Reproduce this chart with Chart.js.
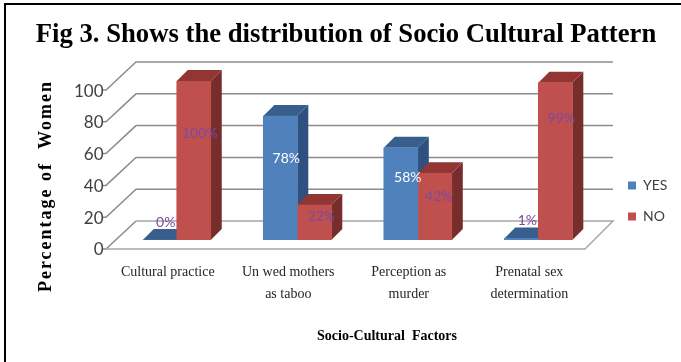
<!DOCTYPE html>
<html>
<head>
<meta charset="utf-8">
<title>Socio Cultural Pattern</title>
<script src="https://cdn.jsdelivr.net/npm/chart.js@4"></script>
<style>
    html, body { margin: 0; padding: 0; background: #fff; }
    #wrap { position: relative; width: 681px; height: 362px; overflow: hidden; }
    #chart { display: block; }
    .rule { position: absolute; background: #000; }
    #ruleTop { left: 4px; top: 3px; right: 0; height: 2px; }
    #ruleLeft { left: 4px; top: 3px; bottom: 0; width: 2px; }
</style>
</head>
<body>
<div id="wrap">
    <canvas id="chart" width="681" height="362"></canvas>
    <div class="rule" id="ruleTop"></div>
    <div class="rule" id="ruleLeft"></div>
</div>
<script>
// Chart data
const categories = [
    'Cultural practice',
    ['Un wed mothers', 'as taboo'],
    ['Perception as', 'murder'],
    ['Prenatal sex', 'determination']
];
const yesValues = [0, 78, 58, 1];
const noValues = [100, 22, 42, 99];
const yTicks = [0, 20, 40, 60, 80, 100];

const chartTitle = 'Fig 3. Shows the distribution of Socio Cultural Pattern';
const yAxisTitle = 'Percentage of  Women';
const xAxisTitle = 'Socio-Cultural  Factors';

// Depth of the drawing: bars and the box they stand in
const barDepth = 11;
const floorFront = 9;
const floorBack = -19;
const wallLeft = 106;
const wallBack = 136;
const wallRight = 613;
const floorRight = 585;

const faces = [
    { top: '#385e8c', side: '#2e5180' },
    { top: '#923634', side: '#772d2b' }
];

// Where each value label sits relative to the middle of its bar
const labelColor = '#7d4a9e';
const labelShift = [
    [{ x: 6, y: -18 }, { x: 6, y: -20 }, { x: 7, y: -16 }, { x: 6, y: -19 }],
    [{ x: 6, y: -27 }, { x: 7, y: -6 }, { x: 4, y: -10 }, { x: 6, y: -43 }]
];

const boxPlugin = {
    id: 'box',
    beforeDatasetsDraw(chart) {
        const { ctx, scales: { y } } = chart;
        ctx.save();
        ctx.strokeStyle = '#8c8c8c';
        ctx.lineWidth = 1.5;
        yTicks.forEach((tick) => {
            const py = y.getPixelForValue(tick);
            ctx.beginPath();
            ctx.moveTo(wallLeft - 3, py + floorFront);
            ctx.lineTo(wallLeft, py + floorFront);
            ctx.lineTo(wallBack, py + floorBack);
            if (tick > 0) ctx.lineTo(wallRight, py + floorBack);
            ctx.stroke();
        });

        const base = y.getPixelForValue(0);
        ctx.strokeStyle = '#a6a6a6';
        ctx.beginPath();
        ctx.moveTo(wallLeft, base + floorFront);
        ctx.lineTo(floorRight, base + floorFront);
        ctx.lineTo(wallRight, base + floorBack);
        ctx.lineTo(wallBack, base + floorBack);
        ctx.stroke();

        // Top and side faces go under the fronts the library draws
        chart.data.labels.forEach((label, i) => {
            chart.data.datasets.forEach((ds, d) => {
                const bar = chart.getDatasetMeta(d).data[i];
                const left = bar.x - bar.width / 2;
                const right = bar.x + bar.width / 2;
                ctx.fillStyle = faces[d].side;
                ctx.beginPath();
                ctx.moveTo(right, bar.y);
                ctx.lineTo(right + barDepth, bar.y - barDepth);
                ctx.lineTo(right + barDepth, base - barDepth);
                ctx.lineTo(right, base);
                ctx.closePath();
                ctx.fill();
                ctx.fillStyle = faces[d].top;
                ctx.beginPath();
                ctx.moveTo(left, bar.y);
                ctx.lineTo(left + barDepth, bar.y - barDepth);
                ctx.lineTo(right + barDepth, bar.y - barDepth);
                ctx.lineTo(right, bar.y);
                ctx.closePath();
                ctx.fill();
            });
        });
        ctx.restore();
    },
    afterDatasetsDraw(chart) {
        const { ctx } = chart;
        ctx.save();
        ctx.font = '14px Lato';
        ctx.textAlign = 'center';
        ctx.textBaseline = 'middle';
        chart.data.datasets.forEach((ds, d) => {
            chart.getDatasetMeta(d).data.forEach((bar, i) => {
                const value = ds.data[i];
                const base = chart.scales.y.getPixelForValue(0);
                // Tall blue bars are dark enough to need white text
                ctx.fillStyle = d === 0 && value > 50 ? '#ffffff' : labelColor;
                const shift = labelShift[d][i];
                ctx.fillText(`${value}%`, bar.x + shift.x, (bar.y + base) / 2 + shift.y);
            });
        });
        ctx.restore();
    },
    afterDraw(chart) {
        const { ctx } = chart;
        ctx.save();
        ctx.fillStyle = '#000';
        ctx.textAlign = 'center';
        ctx.textBaseline = 'middle';

        ctx.font = 'bold 14px "Liberation Serif"';
        ctx.fillText(xAxisTitle, 387, 336);

        ctx.translate(46, 186);
        ctx.rotate(-Math.PI / 2);
        ctx.font = 'bold 18px "Liberation Serif"';
        ctx.letterSpacing = '2px';
        ctx.fillText(yAxisTitle, 0, 0);
        ctx.restore();
    },
    afterLayout(chart) {
        // Legend sits further out and lower than its layout box would put it
        const { legend } = chart;
        const shift = 611 - legend.left;
        legend.left += shift;
        legend.right += shift;
        legend.top += 20;
        legend.bottom += 20;
    }
};

new Chart(document.getElementById('chart'), {
    type: 'bar',
    plugins: [boxPlugin],
    data: {
        labels: categories,
        datasets: [
            { label: 'YES', data: yesValues, backgroundColor: '#4f81bd' },
            { label: 'NO', data: noValues, backgroundColor: '#c0504d' }
        ]
    },
    options: {
        responsive: false,
        animation: false,
        barThickness: 34,
        layout: { padding: { left: 27, right: 16, top: 0, bottom: 0 } },
        plugins: {
            title: {
                display: true,
                text: chartTitle,
                color: '#000',
                font: { family: '"Liberation Serif"', size: 26.7, weight: 'bold' },
                padding: { top: 19, bottom: 30 }
            },
            legend: {
                position: 'right',
                labels: {
                    boxWidth: 8,
                    boxHeight: 8,
                    padding: 17,
                    color: '#404040',
                    font: { family: 'Lato', size: 14 }
                }
            },
            tooltip: { enabled: false }
        },
        scales: {
            x: {
                grid: { display: false },
                border: { display: false },
                afterFit(scale) { scale.height = 122; },
                ticks: {
                    autoSkip: false,
                    maxRotation: 0,
                    padding: 13,
                    labelOffset: -9,
                    color: '#262626',
                    font: { family: '"Liberation Serif"', size: 14, lineHeight: 1.57 }
                }
            },
            y: {
                min: 0,
                max: 100,
                grid: { display: false },
                border: { display: false },
                afterFit(scale) { scale.width = 89.5; },
                ticks: {
                    stepSize: 20,
                    padding: 5,
                    labelOffset: 10,
                    color: '#404040',
                    font: { family: 'Lato', size: 17 }
                }
            }
        }
    }
});
</script>
</body>
</html>
